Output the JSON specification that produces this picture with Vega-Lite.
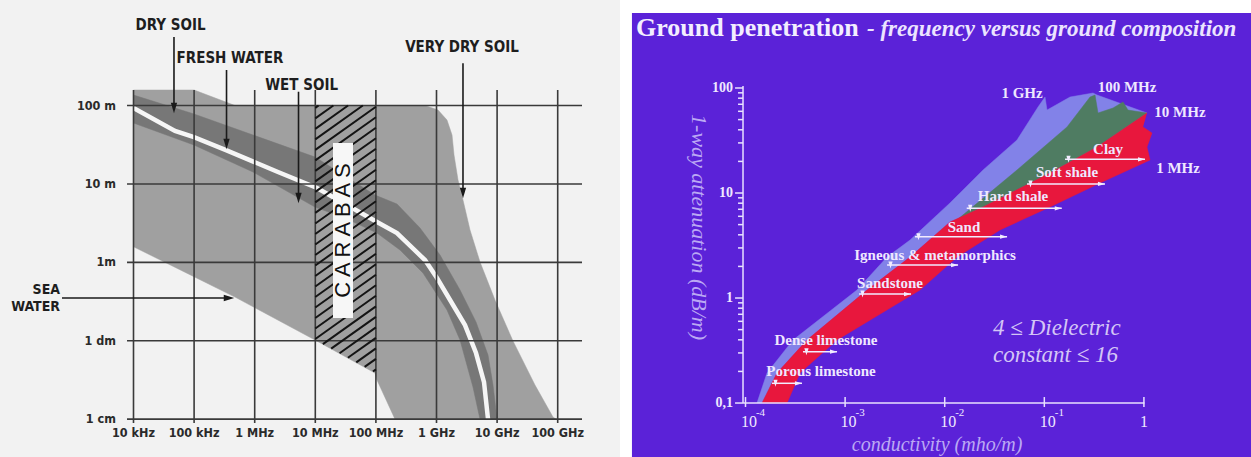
{
  "$schema": "https://vega.github.io/schema/vega-lite/v6.json",
  "background": "#ffffff",
  "padding": 0,
  "spacing": 0,
  "config": {"view": {"stroke": null}, "concat": {"spacing": 0}},
  "datasets": {
    "left_bg": [{"log10_hz": 1.797, "log10_hz_end": 12.028, "log10_m": 3.346, "log10_m_end": -2.483}],
    "envelope": [
      {"i": 0, "log10_hz": 4.000, "log10_m": 2.198},
      {"i": 1, "log10_hz": 5.000, "log10_m": 2.198},
      {"i": 2, "log10_hz": 5.675, "log10_m": 2.000},
      {"i": 3, "log10_hz": 8.810, "log10_m": 2.000},
      {"i": 4, "log10_hz": 9.025, "log10_m": 1.943},
      {"i": 5, "log10_hz": 9.173, "log10_m": 1.815},
      {"i": 6, "log10_hz": 9.256, "log10_m": 1.624},
      {"i": 7, "log10_hz": 9.289, "log10_m": 1.369},
      {"i": 8, "log10_hz": 9.355, "log10_m": 1.050},
      {"i": 9, "log10_hz": 9.437, "log10_m": 0.795},
      {"i": 10, "log10_hz": 9.553, "log10_m": 0.412},
      {"i": 11, "log10_hz": 9.718, "log10_m": 0.004},
      {"i": 12, "log10_hz": 9.965, "log10_m": -0.481},
      {"i": 13, "log10_hz": 10.262, "log10_m": -1.004},
      {"i": 14, "log10_hz": 10.625, "log10_m": -1.565},
      {"i": 15, "log10_hz": 10.922, "log10_m": -1.973},
      {"i": 16, "log10_hz": 10.972, "log10_m": -2.000},
      {"i": 17, "log10_hz": 8.315, "log10_m": -2.000},
      {"i": 18, "log10_hz": 8.018, "log10_m": -1.501},
      {"i": 19, "log10_hz": 7.985, "log10_m": -1.412},
      {"i": 20, "log10_hz": 6.995, "log10_m": -0.991},
      {"i": 21, "log10_hz": 5.675, "log10_m": -0.443},
      {"i": 22, "log10_hz": 4.000, "log10_m": 0.199}
    ],
    "band": [
      {"i": 0, "log10_hz": 4.000, "log10_m": 2.134},
      {"i": 1, "log10_hz": 4.998, "log10_m": 1.892},
      {"i": 2, "log10_hz": 5.972, "log10_m": 1.624},
      {"i": 3, "log10_hz": 6.995, "log10_m": 1.343},
      {"i": 4, "log10_hz": 7.985, "log10_m": 0.858},
      {"i": 5, "log10_hz": 8.348, "log10_m": 0.744},
      {"i": 6, "log10_hz": 8.728, "log10_m": 0.438},
      {"i": 7, "log10_hz": 9.058, "log10_m": 0.093},
      {"i": 8, "log10_hz": 9.388, "log10_m": -0.353},
      {"i": 9, "log10_hz": 9.652, "log10_m": -0.761},
      {"i": 10, "log10_hz": 9.850, "log10_m": -1.182},
      {"i": 11, "log10_hz": 9.932, "log10_m": -1.565},
      {"i": 12, "log10_hz": 9.998, "log10_m": -2.000},
      {"i": 13, "log10_hz": 9.718, "log10_m": -2.000},
      {"i": 14, "log10_hz": 9.602, "log10_m": -1.591},
      {"i": 15, "log10_hz": 9.388, "log10_m": -0.991},
      {"i": 16, "log10_hz": 9.173, "log10_m": -0.608},
      {"i": 17, "log10_hz": 8.777, "log10_m": -0.136},
      {"i": 18, "log10_hz": 8.398, "log10_m": 0.157},
      {"i": 19, "log10_hz": 8.018, "log10_m": 0.374},
      {"i": 20, "log10_hz": 7.490, "log10_m": 0.565},
      {"i": 21, "log10_hz": 6.995, "log10_m": 0.705},
      {"i": 22, "log10_hz": 5.972, "log10_m": 1.152},
      {"i": 23, "log10_hz": 4.998, "log10_m": 1.496},
      {"i": 24, "log10_hz": 4.000, "log10_m": 1.777}
    ],
    "fresh_line": [
      {"i": 0, "log10_hz": 4.000, "log10_m": 1.968},
      {"i": 1, "log10_hz": 4.685, "log10_m": 1.675},
      {"i": 2, "log10_hz": 4.998, "log10_m": 1.598},
      {"i": 3, "log10_hz": 5.526, "log10_m": 1.432},
      {"i": 4, "log10_hz": 6.384, "log10_m": 1.152},
      {"i": 5, "log10_hz": 7.028, "log10_m": 0.948},
      {"i": 6, "log10_hz": 8.018, "log10_m": 0.514},
      {"i": 7, "log10_hz": 8.348, "log10_m": 0.374},
      {"i": 8, "log10_hz": 8.810, "log10_m": 0.029},
      {"i": 9, "log10_hz": 9.008, "log10_m": -0.200},
      {"i": 10, "log10_hz": 9.322, "log10_m": -0.608},
      {"i": 11, "log10_hz": 9.470, "log10_m": -0.800},
      {"i": 12, "log10_hz": 9.652, "log10_m": -1.157},
      {"i": 13, "log10_hz": 9.784, "log10_m": -1.527},
      {"i": 14, "log10_hz": 9.850, "log10_m": -2.000}
    ],
    "hatch": [
      {"log10_hz": 7.000, "log10_m": 1.970, "log10_hz_end": 7.054, "log10_m_end": 2.000},
      {"log10_hz": 7.000, "log10_m": 1.836, "log10_hz_end": 7.298, "log10_m_end": 2.000},
      {"log10_hz": 7.000, "log10_m": 1.702, "log10_hz_end": 7.541, "log10_m_end": 2.000},
      {"log10_hz": 7.000, "log10_m": 1.568, "log10_hz_end": 7.784, "log10_m_end": 2.000},
      {"log10_hz": 7.000, "log10_m": 1.434, "log10_hz_end": 8.000, "log10_m_end": 1.985},
      {"log10_hz": 7.000, "log10_m": 1.300, "log10_hz_end": 8.000, "log10_m_end": 1.851},
      {"log10_hz": 7.000, "log10_m": 1.166, "log10_hz_end": 8.000, "log10_m_end": 1.717},
      {"log10_hz": 7.000, "log10_m": 1.032, "log10_hz_end": 8.000, "log10_m_end": 1.583},
      {"log10_hz": 7.000, "log10_m": 0.898, "log10_hz_end": 8.000, "log10_m_end": 1.449},
      {"log10_hz": 7.000, "log10_m": 0.764, "log10_hz_end": 8.000, "log10_m_end": 1.315},
      {"log10_hz": 7.000, "log10_m": 0.630, "log10_hz_end": 8.000, "log10_m_end": 1.181},
      {"log10_hz": 7.000, "log10_m": 0.496, "log10_hz_end": 8.000, "log10_m_end": 1.047},
      {"log10_hz": 7.000, "log10_m": 0.362, "log10_hz_end": 8.000, "log10_m_end": 0.913},
      {"log10_hz": 7.000, "log10_m": 0.228, "log10_hz_end": 8.000, "log10_m_end": 0.779},
      {"log10_hz": 7.000, "log10_m": 0.094, "log10_hz_end": 8.000, "log10_m_end": 0.645},
      {"log10_hz": 7.000, "log10_m": -0.040, "log10_hz_end": 8.000, "log10_m_end": 0.511},
      {"log10_hz": 7.000, "log10_m": -0.174, "log10_hz_end": 8.000, "log10_m_end": 0.377},
      {"log10_hz": 7.000, "log10_m": -0.308, "log10_hz_end": 8.000, "log10_m_end": 0.243},
      {"log10_hz": 7.000, "log10_m": -0.442, "log10_hz_end": 8.000, "log10_m_end": 0.109},
      {"log10_hz": 7.000, "log10_m": -0.576, "log10_hz_end": 8.000, "log10_m_end": -0.025},
      {"log10_hz": 7.000, "log10_m": -0.710, "log10_hz_end": 8.000, "log10_m_end": -0.159},
      {"log10_hz": 7.000, "log10_m": -0.844, "log10_hz_end": 8.000, "log10_m_end": -0.293},
      {"log10_hz": 7.000, "log10_m": -0.978, "log10_hz_end": 8.000, "log10_m_end": -0.427},
      {"log10_hz": 7.125, "log10_m": -1.043, "log10_hz_end": 8.000, "log10_m_end": -0.561},
      {"log10_hz": 7.262, "log10_m": -1.101, "log10_hz_end": 8.000, "log10_m_end": -0.695},
      {"log10_hz": 7.400, "log10_m": -1.160, "log10_hz_end": 8.000, "log10_m_end": -0.829},
      {"log10_hz": 7.538, "log10_m": -1.217, "log10_hz_end": 8.000, "log10_m_end": -0.963},
      {"log10_hz": 7.676, "log10_m": -1.276, "log10_hz_end": 8.000, "log10_m_end": -1.097},
      {"log10_hz": 7.814, "log10_m": -1.334, "log10_hz_end": 8.000, "log10_m_end": -1.231},
      {"log10_hz": 7.952, "log10_m": -1.392, "log10_hz_end": 8.000, "log10_m_end": -1.365}
    ],
    "carabas_box": [{"log10_hz": 7.292, "log10_hz_end": 7.622, "log10_m": 1.522, "log10_m_end": -0.710}],
    "carabas_text": [{"log10_hz": 7.457, "log10_m": 0.406, "label": "C  A  R  A  B  A  S"}],
    "grid_left": [
      {"log10_hz": 3.893, "log10_hz_end": 11.401, "log10_m": 2, "log10_m_end": 2},
      {"log10_hz": 3.893, "log10_hz_end": 11.401, "log10_m": 1, "log10_m_end": 1},
      {"log10_hz": 3.893, "log10_hz_end": 11.401, "log10_m": 0, "log10_m_end": 0},
      {"log10_hz": 3.893, "log10_hz_end": 11.401, "log10_m": -1, "log10_m_end": -1},
      {"log10_hz": 3.893, "log10_hz_end": 11.401, "log10_m": -2, "log10_m_end": -2},
      {"log10_hz": 4, "log10_hz_end": 4, "log10_m": 2.198, "log10_m_end": -2.05},
      {"log10_hz": 5, "log10_hz_end": 5, "log10_m": 2.198, "log10_m_end": -2.05},
      {"log10_hz": 6, "log10_hz_end": 6, "log10_m": 2.198, "log10_m_end": -2.05},
      {"log10_hz": 7, "log10_hz_end": 7, "log10_m": 2.198, "log10_m_end": -2.05},
      {"log10_hz": 8, "log10_hz_end": 8, "log10_m": 2.198, "log10_m_end": -2.05},
      {"log10_hz": 9, "log10_hz_end": 9, "log10_m": 2.198, "log10_m_end": -2.05},
      {"log10_hz": 10, "log10_hz_end": 10, "log10_m": 2.198, "log10_m_end": -2.05},
      {"log10_hz": 11, "log10_hz_end": 11, "log10_m": 2.198, "log10_m_end": -2.05}
    ],
    "arrows_left": [
      {"log10_hz": 4.668, "log10_hz_end": 4.668, "log10_m": 2.874, "log10_m_end": 1.968},
      {"log10_hz": 5.535, "log10_hz_end": 5.535, "log10_m": 2.453, "log10_m_end": 1.509},
      {"log10_hz": 6.723, "log10_hz_end": 6.723, "log10_m": 2.176, "log10_m_end": 0.820},
      {"log10_hz": 9.437, "log10_hz_end": 9.437, "log10_m": 2.538, "log10_m_end": 0.884},
      {"log10_hz": 2.820, "log10_hz_end": 5.576, "log10_m": -0.455, "log10_m_end": -0.455}
    ],
    "heads_left": [
      {"log10_hz": 4.668, "log10_m": 1.968, "dir": "down"},
      {"log10_hz": 5.535, "log10_m": 1.509, "dir": "down"},
      {"log10_hz": 6.723, "log10_m": 0.820, "dir": "down"},
      {"log10_hz": 9.437, "log10_m": 0.884, "dir": "down"},
      {"log10_hz": 5.576, "log10_m": -0.455, "dir": "right"}
    ],
    "labels_left_top": [
      {"log10_hz": 4.612, "log10_m": 3.027, "label": "DRY SOIL"},
      {"log10_hz": 5.592, "log10_m": 2.606, "label": "FRESH WATER"},
      {"log10_hz": 6.774, "log10_m": 2.261, "label": "WET SOIL"},
      {"log10_hz": 9.421, "log10_m": 2.746, "label": "VERY DRY SOIL"}
    ],
    "labels_left_sea": [
      {"log10_hz": 2.787, "log10_m": -0.350, "label": "SEA"},
      {"log10_hz": 2.787, "log10_m": -0.575, "label": "WATER"}
    ],
    "ticks_left_y": [
      {"log10_hz": 3.711, "log10_m": 2, "label": "100 m"},
      {"log10_hz": 3.711, "log10_m": 1, "label": "10 m"},
      {"log10_hz": 3.711, "log10_m": 0, "label": "1m"},
      {"log10_hz": 3.711, "log10_m": -1, "label": "1 dm"},
      {"log10_hz": 3.711, "log10_m": -2, "label": "1 cm"}
    ],
    "ticks_left_x": [
      {"log10_hz": 4, "log10_m": -2.177, "label": "10 kHz"},
      {"log10_hz": 5, "log10_m": -2.177, "label": "100 kHz"},
      {"log10_hz": 6, "log10_m": -2.177, "label": "1 MHz"},
      {"log10_hz": 7, "log10_m": -2.177, "label": "10 MHz"},
      {"log10_hz": 8, "log10_m": -2.177, "label": "100 MHz"},
      {"log10_hz": 9, "log10_m": -2.177, "label": "1 GHz"},
      {"log10_hz": 10, "log10_m": -2.177, "label": "10 GHz"},
      {"log10_hz": 11, "log10_m": -2.177, "label": "100 GHz"}
    ],
    "right_bg": [{"log10_mho": -5.140, "log10_mho_end": 1.075, "log10_db": 2.714, "log10_db_end": -1.514}],
    "blue": [
      {"i": 0, "log10_mho": -3.885, "log10_db": -1.000},
      {"i": 1, "log10_mho": -3.784, "log10_db": -0.714},
      {"i": 2, "log10_mho": -3.523, "log10_db": -0.400},
      {"i": 3, "log10_mho": -2.881, "log10_db": 0.076},
      {"i": 4, "log10_mho": -2.579, "log10_db": 0.390},
      {"i": 5, "log10_mho": -2.348, "log10_db": 0.552},
      {"i": 6, "log10_mho": -1.947, "log10_db": 0.905},
      {"i": 7, "log10_mho": -1.615, "log10_db": 1.219},
      {"i": 8, "log10_mho": -1.274, "log10_db": 1.505},
      {"i": 9, "log10_mho": -1.063, "log10_db": 1.819},
      {"i": 10, "log10_mho": -0.993, "log10_db": 1.914},
      {"i": 11, "log10_mho": -0.973, "log10_db": 1.790},
      {"i": 12, "log10_mho": -0.742, "log10_db": 1.914},
      {"i": 13, "log10_mho": -0.511, "log10_db": 1.952},
      {"i": 14, "log10_mho": -0.471, "log10_db": 1.933},
      {"i": 15, "log10_mho": 0.031, "log10_db": 1.762},
      {"i": 16, "log10_mho": -0.471, "log10_db": 1.438},
      {"i": 17, "log10_mho": -0.943, "log10_db": 1.190},
      {"i": 18, "log10_mho": -1.615, "log10_db": 0.867},
      {"i": 19, "log10_mho": -1.947, "log10_db": 0.724},
      {"i": 20, "log10_mho": -2.348, "log10_db": 0.390},
      {"i": 21, "log10_mho": -2.780, "log10_db": 0.076},
      {"i": 22, "log10_mho": -3.383, "log10_db": -0.400},
      {"i": 23, "log10_mho": -3.684, "log10_db": -0.714},
      {"i": 24, "log10_mho": -3.834, "log10_db": -1.000}
    ],
    "green": [
      {"i": 0, "log10_mho": -1.866, "log10_db": 0.752},
      {"i": 1, "log10_mho": -1.274, "log10_db": 1.219},
      {"i": 2, "log10_mho": -0.772, "log10_db": 1.629},
      {"i": 3, "log10_mho": -0.541, "log10_db": 1.914},
      {"i": 4, "log10_mho": -0.491, "log10_db": 1.933},
      {"i": 5, "log10_mho": -0.461, "log10_db": 1.762},
      {"i": 6, "log10_mho": -0.310, "log10_db": 1.810},
      {"i": 7, "log10_mho": -0.210, "log10_db": 1.867},
      {"i": 8, "log10_mho": -0.160, "log10_db": 1.790},
      {"i": 9, "log10_mho": 0.031, "log10_db": 1.762},
      {"i": 10, "log10_mho": -0.471, "log10_db": 1.438},
      {"i": 11, "log10_mho": -0.943, "log10_db": 1.190},
      {"i": 12, "log10_mho": -1.615, "log10_db": 0.867}
    ],
    "red": [
      {"i": 0, "log10_mho": 0.031, "log10_db": 1.762},
      {"i": 1, "log10_mho": -0.471, "log10_db": 1.438},
      {"i": 2, "log10_mho": -0.943, "log10_db": 1.190},
      {"i": 3, "log10_mho": -1.615, "log10_db": 0.867},
      {"i": 4, "log10_mho": -1.947, "log10_db": 0.724},
      {"i": 5, "log10_mho": -2.348, "log10_db": 0.390},
      {"i": 6, "log10_mho": -2.780, "log10_db": 0.076},
      {"i": 7, "log10_mho": -3.383, "log10_db": -0.400},
      {"i": 8, "log10_mho": -3.684, "log10_db": -0.714},
      {"i": 9, "log10_mho": -3.834, "log10_db": -1.000},
      {"i": 10, "log10_mho": -3.583, "log10_db": -1.000},
      {"i": 11, "log10_mho": -3.453, "log10_db": -0.714},
      {"i": 12, "log10_mho": -3.081, "log10_db": -0.400},
      {"i": 13, "log10_mho": -2.248, "log10_db": 0.076},
      {"i": 14, "log10_mho": -1.876, "log10_db": 0.390},
      {"i": 15, "log10_mho": -1.445, "log10_db": 0.648},
      {"i": 16, "log10_mho": -0.943, "log10_db": 0.867},
      {"i": 17, "log10_mho": -0.441, "log10_db": 1.095},
      {"i": 18, "log10_mho": 0.061, "log10_db": 1.314},
      {"i": 19, "log10_mho": 0.031, "log10_db": 1.438},
      {"i": 20, "log10_mho": 0.081, "log10_db": 1.571},
      {"i": 21, "log10_mho": -0.009, "log10_db": 1.629}
    ],
    "arrows_right": [
      {"log10_mho": -0.792, "log10_mho_end": 0.011, "log10_db": 1.321},
      {"log10_mho": -1.174, "log10_mho_end": -0.391, "log10_db": 1.086},
      {"log10_mho": -1.779, "log10_mho_end": -0.825, "log10_db": 0.854},
      {"log10_mho": -2.298, "log10_mho_end": -1.374, "log10_db": 0.584},
      {"log10_mho": -2.579, "log10_mho_end": -1.866, "log10_db": 0.314},
      {"log10_mho": -2.860, "log10_mho_end": -2.338, "log10_db": 0.038},
      {"log10_mho": -3.423, "log10_mho_end": -3.081, "log10_db": -0.511},
      {"log10_mho": -3.734, "log10_mho_end": -3.433, "log10_db": -0.812}
    ],
    "heads_right": [
      {"log10_mho": -0.757, "log10_db": 1.321, "dir": "l"},
      {"log10_mho": -0.024, "log10_db": 1.321, "dir": "r"},
      {"log10_mho": -1.139, "log10_db": 1.086, "dir": "l"},
      {"log10_mho": -0.426, "log10_db": 1.086, "dir": "r"},
      {"log10_mho": -1.744, "log10_db": 0.854, "dir": "l"},
      {"log10_mho": -0.860, "log10_db": 0.854, "dir": "r"},
      {"log10_mho": -2.263, "log10_db": 0.584, "dir": "l"},
      {"log10_mho": -1.409, "log10_db": 0.584, "dir": "r"},
      {"log10_mho": -2.544, "log10_db": 0.314, "dir": "l"},
      {"log10_mho": -1.901, "log10_db": 0.314, "dir": "r"},
      {"log10_mho": -2.825, "log10_db": 0.038, "dir": "l"},
      {"log10_mho": -2.373, "log10_db": 0.038, "dir": "r"},
      {"log10_mho": -3.388, "log10_db": -0.511, "dir": "l"},
      {"log10_mho": -3.116, "log10_db": -0.511, "dir": "r"},
      {"log10_mho": -3.699, "log10_db": -0.812, "dir": "l"},
      {"log10_mho": -3.468, "log10_db": -0.812, "dir": "r"}
    ],
    "labels_right": [
      {"log10_mho": -0.360, "log10_db": 1.419, "label": "Clay"},
      {"log10_mho": -0.772, "log10_db": 1.200, "label": "Soft shale"},
      {"log10_mho": -1.314, "log10_db": 0.971, "label": "Hard shale"},
      {"log10_mho": -1.806, "log10_db": 0.676, "label": "Sand"},
      {"log10_mho": -2.097, "log10_db": 0.410, "label": "Igneous & metamorphics"},
      {"log10_mho": -2.549, "log10_db": 0.143, "label": "Sandstone"},
      {"log10_mho": -3.192, "log10_db": -0.400, "label": "Dense limestone"},
      {"log10_mho": -3.242, "log10_db": -0.695, "label": "Porous limestone"},
      {"log10_mho": -1.224, "log10_db": 1.952, "label": "1 GHz"},
      {"log10_mho": -0.170, "log10_db": 2.010, "label": "100 MHz"},
      {"log10_mho": 0.362, "log10_db": 1.771, "label": "10 MHz"},
      {"log10_mho": 0.342, "log10_db": 1.238, "label": "1 MHz"}
    ],
    "dielectric": [
      {"log10_mho": -1.515, "log10_db": -0.286, "label": "4 ≤ Dielectric"},
      {"log10_mho": -1.515, "log10_db": -0.543, "label": "constant ≤ 16"}
    ],
    "axes_right": [
      {"log10_mho": -4.025, "log10_mho_end": -4.025, "log10_db": -1.0, "log10_db_end": 2.02},
      {"log10_mho": -4.025, "log10_mho_end": 0.005, "log10_db": -1.0, "log10_db_end": -1.0},
      {"log10_mho": -4.105, "log10_mho_end": -4.025, "log10_db": 2, "log10_db_end": 2},
      {"log10_mho": -4.105, "log10_mho_end": -4.025, "log10_db": 1, "log10_db_end": 1},
      {"log10_mho": -4.105, "log10_mho_end": -4.025, "log10_db": 0, "log10_db_end": 0},
      {"log10_mho": -4.105, "log10_mho_end": -4.025, "log10_db": -1, "log10_db_end": -1},
      {"log10_mho": -4.075, "log10_mho_end": -4.025, "log10_db": -0.699, "log10_db_end": -0.699},
      {"log10_mho": -4.075, "log10_mho_end": -4.025, "log10_db": -0.523, "log10_db_end": -0.523},
      {"log10_mho": -4.075, "log10_mho_end": -4.025, "log10_db": -0.398, "log10_db_end": -0.398},
      {"log10_mho": -4.075, "log10_mho_end": -4.025, "log10_db": -0.301, "log10_db_end": -0.301},
      {"log10_mho": -4.075, "log10_mho_end": -4.025, "log10_db": -0.222, "log10_db_end": -0.222},
      {"log10_mho": -4.075, "log10_mho_end": -4.025, "log10_db": -0.155, "log10_db_end": -0.155},
      {"log10_mho": -4.075, "log10_mho_end": -4.025, "log10_db": -0.097, "log10_db_end": -0.097},
      {"log10_mho": -4.075, "log10_mho_end": -4.025, "log10_db": -0.046, "log10_db_end": -0.046},
      {"log10_mho": -4.075, "log10_mho_end": -4.025, "log10_db": 0.301, "log10_db_end": 0.301},
      {"log10_mho": -4.075, "log10_mho_end": -4.025, "log10_db": 0.477, "log10_db_end": 0.477},
      {"log10_mho": -4.075, "log10_mho_end": -4.025, "log10_db": 0.602, "log10_db_end": 0.602},
      {"log10_mho": -4.075, "log10_mho_end": -4.025, "log10_db": 0.699, "log10_db_end": 0.699},
      {"log10_mho": -4.075, "log10_mho_end": -4.025, "log10_db": 0.778, "log10_db_end": 0.778},
      {"log10_mho": -4.075, "log10_mho_end": -4.025, "log10_db": 0.845, "log10_db_end": 0.845},
      {"log10_mho": -4.075, "log10_mho_end": -4.025, "log10_db": 0.903, "log10_db_end": 0.903},
      {"log10_mho": -4.075, "log10_mho_end": -4.025, "log10_db": 0.954, "log10_db_end": 0.954},
      {"log10_mho": -4.075, "log10_mho_end": -4.025, "log10_db": 1.301, "log10_db_end": 1.301},
      {"log10_mho": -4.075, "log10_mho_end": -4.025, "log10_db": 1.477, "log10_db_end": 1.477},
      {"log10_mho": -4.075, "log10_mho_end": -4.025, "log10_db": 1.602, "log10_db_end": 1.602},
      {"log10_mho": -4.075, "log10_mho_end": -4.025, "log10_db": 1.699, "log10_db_end": 1.699},
      {"log10_mho": -4.075, "log10_mho_end": -4.025, "log10_db": 1.778, "log10_db_end": 1.778},
      {"log10_mho": -4.075, "log10_mho_end": -4.025, "log10_db": 1.845, "log10_db_end": 1.845},
      {"log10_mho": -4.075, "log10_mho_end": -4.025, "log10_db": 1.903, "log10_db_end": 1.903},
      {"log10_mho": -4.075, "log10_mho_end": -4.025, "log10_db": 1.954, "log10_db_end": 1.954},
      {"log10_mho": -4, "log10_mho_end": -4, "log10_db": -0.943, "log10_db_end": -1.038},
      {"log10_mho": -3, "log10_mho_end": -3, "log10_db": -0.943, "log10_db_end": -1.038},
      {"log10_mho": -2, "log10_mho_end": -2, "log10_db": -0.943, "log10_db_end": -1.038},
      {"log10_mho": -1, "log10_mho_end": -1, "log10_db": -0.943, "log10_db_end": -1.038},
      {"log10_mho": 0, "log10_mho_end": 0, "log10_db": -0.943, "log10_db_end": -1.038}
    ],
    "ticks_right_y": [
      {"log10_mho": -4.126, "log10_db": 2, "label": "100"},
      {"log10_mho": -4.126, "log10_db": 1, "label": "10"},
      {"log10_mho": -4.126, "log10_db": 0, "label": "1"},
      {"log10_mho": -4.126, "log10_db": -1, "label": "0,1"}
    ],
    "ticks_right_x": [
      {"log10_mho": -3.965, "log10_db": -1.178, "label": "10"},
      {"log10_mho": -2.965, "log10_db": -1.178, "label": "10"},
      {"log10_mho": -1.965, "log10_db": -1.178, "label": "10"},
      {"log10_mho": -0.965, "log10_db": -1.178, "label": "10"},
      {"log10_mho": 0.0, "log10_db": -1.178, "label": "1"}
    ],
    "ticks_right_sup": [
      {"log10_mho": -3.895, "log10_db": -1.095, "label": "-4"},
      {"log10_mho": -2.895, "log10_db": -1.095, "label": "-3"},
      {"log10_mho": -1.895, "log10_db": -1.095, "label": "-2"},
      {"log10_mho": -0.895, "log10_db": -1.095, "label": "-1"}
    ],
    "title_main": [{"log10_mho": -5.099, "log10_db": 2.495, "label": "Ground penetration"}],
    "title_sub": [{"log10_mho": -2.780, "log10_db": 2.495, "label": "- frequency versus ground composition"}],
    "axis_title_x": [{"log10_mho": -2.077, "log10_db": -1.400, "label": "conductivity (mho/m)"}],
    "axis_title_y": [{"log10_mho": -4.467, "log10_db": 0.676, "label": "1-way attenuation (dB/m)"}]
  },
  "hconcat": [
    {
      "width": 620,
      "height": 457,
      "encoding": {
        "x": {"field": "log10_hz", "type": "quantitative", "scale": {"domain": [1.797, 12.028], "nice": false, "zero": false}, "axis": null},
        "y": {"field": "log10_m", "type": "quantitative", "scale": {"domain": [-2.483, 3.346], "nice": false, "zero": false}, "axis": null}
      },
      "layer": [
        {"data": {"name": "left_bg"}, "mark": {"type": "rect", "color": "#f2f2f2"}, "encoding": {"x2": {"field": "log10_hz_end"}, "y2": {"field": "log10_m_end"}}},
        {"data": {"name": "envelope"}, "mark": {"type": "line", "fill": "#a0a0a0", "stroke": "#a0a0a0", "strokeWidth": 0.5}, "encoding": {"order": {"field": "i", "type": "quantitative"}}},
        {"data": {"name": "band"}, "mark": {"type": "line", "fill": "#777777", "stroke": "#777777", "strokeWidth": 0.5}, "encoding": {"order": {"field": "i", "type": "quantitative"}}},
        {"data": {"name": "fresh_line"}, "mark": {"type": "line", "stroke": "#f6f6f6", "strokeWidth": 4.5}, "encoding": {"order": {"field": "i", "type": "quantitative"}}},
        {"data": {"name": "grid_left"}, "mark": {"type": "rule", "color": "#3a3a3a", "strokeWidth": 1.6}, "encoding": {"x2": {"field": "log10_hz_end"}, "y2": {"field": "log10_m_end"}}},
        {"data": {"name": "hatch"}, "mark": {"type": "rule", "color": "#141414", "strokeWidth": 2}, "encoding": {"x2": {"field": "log10_hz_end"}, "y2": {"field": "log10_m_end"}}},
        {"data": {"name": "carabas_box"}, "mark": {"type": "rect", "color": "#f7f7f7"}, "encoding": {"x2": {"field": "log10_hz_end"}, "y2": {"field": "log10_m_end"}}},
        {"data": {"name": "carabas_text"}, "mark": {"type": "text", "angle": 270, "align": "center", "baseline": "middle", "font": "Liberation Sans", "fontSize": 22, "color": "#111111"}, "encoding": {"text": {"field": "label"}}},
        {"data": {"name": "arrows_left"}, "mark": {"type": "rule", "color": "#1a1a1a", "strokeWidth": 1.6}, "encoding": {"x2": {"field": "log10_hz_end"}, "y2": {"field": "log10_m_end"}}},
        {"data": {"name": "heads_left"}, "mark": {"type": "point", "filled": true, "color": "#1a1a1a", "size": 110, "opacity": 1}, "encoding": {"shape": {"field": "dir", "type": "nominal", "scale": {"domain": ["down", "right"], "range": ["M-0.6,-1L0.6,-1L0,1Z", "M-1,-0.6L-1,0.6L1,0Z"]}, "legend": null}}},
        {"data": {"name": "labels_left_top"}, "mark": {"type": "text", "align": "center", "baseline": "middle", "font": "Liberation Sans Narrow, DejaVu Sans Condensed, Liberation Sans", "fontWeight": "bold", "fontSize": 15, "color": "#1e1e1e"}, "encoding": {"text": {"field": "label"}}},
        {"data": {"name": "labels_left_sea"}, "mark": {"type": "text", "align": "right", "baseline": "middle", "font": "Liberation Sans Narrow, DejaVu Sans Condensed, Liberation Sans", "fontWeight": "bold", "fontSize": 14, "color": "#1e1e1e"}, "encoding": {"text": {"field": "label"}}},
        {"data": {"name": "ticks_left_y"}, "mark": {"type": "text", "align": "right", "baseline": "middle", "font": "Liberation Sans Narrow, DejaVu Sans Condensed, Liberation Sans", "fontWeight": "bold", "fontSize": 12.5, "color": "#2a2a2a"}, "encoding": {"text": {"field": "label"}}},
        {"data": {"name": "ticks_left_x"}, "mark": {"type": "text", "align": "center", "baseline": "middle", "font": "Liberation Sans Narrow, DejaVu Sans Condensed, Liberation Sans", "fontWeight": "bold", "fontSize": 12.5, "color": "#2a2a2a"}, "encoding": {"text": {"field": "label"}}}
      ]
    },
    {
      "width": 631,
      "height": 457,
      "encoding": {
        "x": {"field": "log10_mho", "type": "quantitative", "scale": {"domain": [-5.260, 1.075], "nice": false, "zero": false}, "axis": null},
        "y": {"field": "log10_db", "type": "quantitative", "scale": {"domain": [-1.514, 2.838], "nice": false, "zero": false}, "axis": null}
      },
      "layer": [
        {"data": {"name": "right_bg"}, "mark": {"type": "rect", "color": "#5b22d8"}, "encoding": {"x2": {"field": "log10_mho_end"}, "y2": {"field": "log10_db_end"}}},
        {"data": {"name": "blue"}, "mark": {"type": "line", "fill": "#8282e8", "stroke": "#8282e8", "strokeWidth": 0.5}, "encoding": {"order": {"field": "i", "type": "quantitative"}}},
        {"data": {"name": "green"}, "mark": {"type": "line", "fill": "#4f7c62", "stroke": "#4f7c62", "strokeWidth": 0.5}, "encoding": {"order": {"field": "i", "type": "quantitative"}}},
        {"data": {"name": "red"}, "mark": {"type": "line", "fill": "#e8173d", "stroke": "#e8173d", "strokeWidth": 0.5}, "encoding": {"order": {"field": "i", "type": "quantitative"}}},
        {"data": {"name": "arrows_right"}, "mark": {"type": "rule", "color": "#f2ecff", "strokeWidth": 1.5}, "encoding": {"x2": {"field": "log10_mho_end"}}},
        {"data": {"name": "heads_right"}, "mark": {"type": "point", "filled": true, "color": "#f2ecff", "size": 50, "opacity": 1}, "encoding": {"shape": {"field": "dir", "type": "nominal", "scale": {"domain": ["l", "r"], "range": ["M1,-0.6L1,0.6L-1,0Z", "M-1,-0.6L-1,0.6L1,0Z"]}, "legend": null}}},
        {"data": {"name": "labels_right"}, "mark": {"type": "text", "align": "center", "baseline": "middle", "font": "Liberation Serif", "fontWeight": "bold", "fontSize": 15, "color": "#efe8ff"}, "encoding": {"text": {"field": "label"}}},
        {"data": {"name": "dielectric"}, "mark": {"type": "text", "align": "left", "baseline": "middle", "font": "Liberation Serif", "fontStyle": "italic", "fontSize": 23, "color": "#d4c6f6"}, "encoding": {"text": {"field": "label"}}},
        {"data": {"name": "axes_right"}, "mark": {"type": "rule", "color": "#e8e0ff", "strokeWidth": 1.5}, "encoding": {"x2": {"field": "log10_mho_end"}, "y2": {"field": "log10_db_end"}}},
        {"data": {"name": "ticks_right_y"}, "mark": {"type": "text", "align": "right", "baseline": "middle", "font": "Liberation Serif", "fontWeight": "bold", "fontSize": 14, "color": "#efe8ff"}, "encoding": {"text": {"field": "label"}}},
        {"data": {"name": "ticks_right_x"}, "mark": {"type": "text", "align": "center", "baseline": "middle", "font": "Liberation Serif", "fontSize": 16, "color": "#efe8ff"}, "encoding": {"text": {"field": "label"}}},
        {"data": {"name": "ticks_right_sup"}, "mark": {"type": "text", "align": "left", "baseline": "middle", "font": "Liberation Serif", "fontSize": 11, "color": "#efe8ff"}, "encoding": {"text": {"field": "label"}}},
        {"data": {"name": "title_main"}, "mark": {"type": "text", "align": "left", "baseline": "alphabetic", "font": "Liberation Serif", "fontWeight": "bold", "fontSize": 26, "color": "#f3eeff"}, "encoding": {"text": {"field": "label"}}},
        {"data": {"name": "title_sub"}, "mark": {"type": "text", "align": "left", "baseline": "alphabetic", "font": "Liberation Serif", "fontWeight": "bold", "fontStyle": "italic", "fontSize": 23, "color": "#ece4ff"}, "encoding": {"text": {"field": "label"}}},
        {"data": {"name": "axis_title_x"}, "mark": {"type": "text", "align": "center", "baseline": "middle", "font": "Liberation Serif", "fontStyle": "italic", "fontSize": 20, "color": "#bba9f4"}, "encoding": {"text": {"field": "label"}}},
        {"data": {"name": "axis_title_y"}, "mark": {"type": "text", "angle": 90, "align": "center", "baseline": "middle", "font": "Liberation Serif", "fontStyle": "italic", "fontSize": 22, "color": "#bba9f4"}, "encoding": {"text": {"field": "label"}}}
      ]
    }
  ]
}
